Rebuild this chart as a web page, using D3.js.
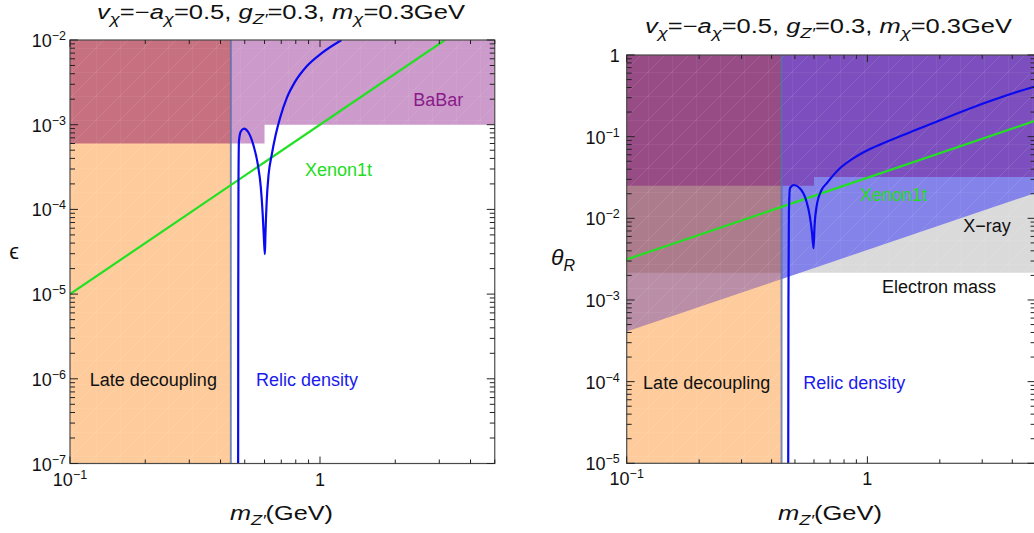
<!DOCTYPE html>
<html>
<head>
<meta charset="utf-8">
<script src="https://cdn.jsdelivr.net/npm/d3@7"></script>
<style>
  body { margin: 0; background: #fff; }
  svg { display: block; font-family: "Liberation Sans", Arial, sans-serif; }
</style>
</head>
<body>
<svg id="chart"></svg>
<script>
const WIDTH = 1034;
const HEIGHT = 533;

// axis domains
const MASS_DOMAIN = [0.1, 5];
const EPS_DOMAIN = [1e-7, 1e-2];
const THETA_DOMAIN = [1e-5, 1];

// left panel (epsilon)
const LATE_DECOUPLING = [0.1, 0.44];
const BABAR = [[0.1, 6e-4], [0.6, 6e-4], [0.6, 1e-3], [5, 1e-3], [5, 1e-2], [0.1, 1e-2]];
const XENON_EPS = [[0.1, 1e-5], [3.16, 1e-2]];
const RELIC_EPS = [
  [0.4705, 1e-7], [0.471, 1e-5], [0.472, 2e-4], [0.474, 6.4e-4], [0.482, 8.3e-4],
  [0.497, 9.0e-4], [0.516, 8.2e-4], [0.541, 5.8e-4], [0.564, 3.4e-4], [0.58, 1.8e-4],
  [0.59, 8.7e-5], [0.597, 4.3e-5], [0.602, 2.96e-5], [0.605, 5.1e-5], [0.612, 1.25e-4],
  [0.623, 2.6e-4], [0.641, 4.4e-4], [0.665, 7.6e-4], [0.692, 1.2e-3], [0.736, 2.06e-3],
  [0.794, 3.2e-3], [0.885, 4.9e-3], [1.016, 7.0e-3], [1.22, 1e-2]
];

// right panel (theta_R)
const ELECTRON_MASS = 2.15e-3;
const XRAY = [[0.1, 4.1e-4], [5, 0.0205]];
const UPPER = [[0.1, 0.025], [0.6, 0.025], [0.6, 0.032], [5, 0.032], [5, 1], [0.1, 1]];
const XENON_THETA = [[0.1, 3.14e-3], [5, 0.157]];
const RELIC_THETA = [
  [0.469, 1e-5], [0.470, 1e-3], [0.472, 0.012], [0.477, 0.0234], [0.495, 0.0256],
  [0.524, 0.0234], [0.556, 0.0168], [0.577, 0.0105], [0.589, 6.6e-3], [0.5975, 4.3e-3],
  [0.603, 7.9e-3], [0.615, 0.0139], [0.645, 0.0222], [0.678, 0.0269], [0.769, 0.041],
  [0.874, 0.0543], [1.025, 0.0706], [1.203, 0.0868], [1.654, 0.1266], [2.275, 0.1842],
  [3.131, 0.2635], [4.305, 0.3624], [4.95, 0.409]
];

const ORANGE = "#fecc9c";

const svg = d3.select("#chart").attr("width", WIDTH).attr("height", HEIGHT);

// faint white mesh that the shaded regions carry
const mesh = svg.append("defs").append("pattern").attr("id", "mesh")
  .attr("patternUnits", "userSpaceOnUse").attr("width", 24).attr("height", 24);
mesh.append("path").attr("d", "M0,0V24M0,0H24M0,24L24,0")
  .attr("stroke", "#fff").attr("stroke-opacity", 0.1).attr("stroke-width", 1).attr("fill", "none");

function logLine(pts, m) {
  // value of a straight log-log segment at mass m
  const [a, b] = pts;
  const t = (Math.log(m) - Math.log(a[0])) / (Math.log(b[0]) - Math.log(a[0]));
  return Math.exp(Math.log(a[1]) + t * (Math.log(b[1]) - Math.log(a[1])));
}

function makePanel(id, xRange, yRange, yDomain) {
  const x = d3.scaleLog().domain(MASS_DOMAIN).range(xRange);
  const y = d3.scaleLog().domain(yDomain).range(yRange);
  const g = svg.append("g");
  const defs = svg.append("defs");
  defs.append("clipPath").attr("id", id + "-plot")
    .append("rect").attr("x", xRange[0]).attr("y", yRange[1])
    .attr("width", xRange[1] - xRange[0]).attr("height", yRange[0] - yRange[1]);
  defs.append("clipPath").attr("id", id + "-late")
    .append("rect").attr("x", x(LATE_DECOUPLING[0])).attr("y", yRange[1])
    .attr("width", x(LATE_DECOUPLING[1]) - x(LATE_DECOUPLING[0])).attr("height", yRange[0] - yRange[1]);
  const plot = g.append("g").attr("clip-path", `url(#${id}-plot)`);
  return { x, y, g, plot, id, xRange, yRange, yDomain };
}

function area(p, layer, pts, color) {
  const path = d3.line().x(d => p.x(d[0])).y(d => p.y(d[1]));
  layer.append("path").attr("d", path(pts) + "Z").attr("fill", color);
  layer.append("path").attr("d", path(pts) + "Z").attr("fill", "url(#mesh)");
}

function rectPts(m0, m1, v0, v1) {
  return [[m0, v0], [m1, v0], [m1, v1], [m0, v1]];
}

function drawCurve(p, pts, color) {
  const line = d3.line().x(d => p.x(d[0])).y(d => p.y(d[1])).curve(d3.curveMonotoneX);
  p.plot.append("path").attr("d", line(pts))
    .attr("fill", "none").attr("stroke", color).attr("stroke-width", 2.2);
}

function drawLateEdge(p) {
  const [lo, hi] = p.yDomain;
  p.plot.append("line")
    .attr("x1", p.x(LATE_DECOUPLING[1])).attr("x2", p.x(LATE_DECOUPLING[1]))
    .attr("y1", p.y(lo)).attr("y2", p.y(hi))
    .attr("stroke", "#4f6fb0").attr("stroke-opacity", 0.75).attr("stroke-width", 2);
}

function powerLabel(text, v, supSize) {
  const e = Math.round(Math.log10(v));
  if (e === 0) { text.text("1"); return; }
  text.append("tspan").text("10");
  text.append("tspan").attr("dy", -7).attr("font-size", supSize).text("\u2212" + Math.abs(e));
}

function drawFrame(p, labelGap) {
  const [x0, x1] = p.xRange;
  const [y1, y0] = p.yRange;
  const isMajor = d => Math.abs(Math.log10(d) - Math.round(Math.log10(d))) < 1e-9;
  const frame = p.g.append("g");
  frame.append("rect").attr("x", x0).attr("y", y0).attr("width", x1 - x0).attr("height", y1 - y0)
    .attr("fill", "none").attr("stroke", "#4a4a4a").attr("stroke-width", 1.2);

  const ticks = frame.append("g").attr("stroke", "#222").attr("stroke-width", 1);
  p.x.ticks().forEach(d => {
    const len = isMajor(d) ? 7 : 4;
    const xx = p.x(d);
    ticks.append("line").attr("x1", xx).attr("x2", xx).attr("y1", y1).attr("y2", y1 - len);
    ticks.append("line").attr("x1", xx).attr("x2", xx).attr("y1", y0).attr("y2", y0 + len);
  });
  p.y.ticks().forEach(d => {
    const len = isMajor(d) ? 8 : 5;
    const yy = p.y(d);
    ticks.append("line").attr("x1", x0).attr("x2", x0 + len).attr("y1", yy).attr("y2", yy);
    ticks.append("line").attr("x1", x1).attr("x2", x1 - len).attr("y1", yy).attr("y2", yy);
  });

  const labels = p.g.append("g").attr("font-size", 18).attr("fill", "#111");
  p.x.ticks().filter(isMajor).forEach(d => {
    const t = labels.append("text").attr("x", p.x(d)).attr("y", y1 + 22).attr("text-anchor", "middle");
    powerLabel(t, d, 12.5);
  });
  p.y.ticks().filter(isMajor).forEach(d => {
    const t = labels.append("text").attr("x", x0 - labelGap).attr("y", p.y(d) + 7).attr("text-anchor", "end");
    powerLabel(t, d, 12.5);
  });
}

function richText(parent, x, y, size, parts, length) {
  const t = parent.append("text").attr("x", x).attr("y", y).attr("font-size", size)
    .attr("text-anchor", "middle").attr("fill", "#111");
  if (length) t.attr("textLength", length).attr("lengthAdjust", "spacingAndGlyphs");
  let shift = 0;
  parts.forEach(([s, italic, sub]) => {
    const target = sub ? 5 : 0;
    const ts = t.append("tspan").text(s).attr("dy", target - shift);
    if (italic) ts.attr("font-style", "italic");
    if (sub) ts.attr("font-size", size * 0.72);
    shift = target;
  });
  return t;
}

const TITLE = [
  ["v", true], ["\u03c7", true, true], ["=\u2212"], ["a", true], ["\u03c7", true, true],
  ["=0.5, "], ["g", true], ["Z\u2032", true, true], ["=0.3, "], ["m", true],
  ["\u03c7", true, true], ["=0.3GeV"]
];
const X_LABEL = [["m", true], ["Z\u2032", true, true], ["(GeV)"]];

function label(p, m, v, text, color, size) {
  p.g.append("text").attr("x", p.x(m)).attr("y", p.y(v))
    .attr("font-size", size || 18).attr("fill", color).text(text);
}

// ---------------- left panel ----------------
const left = makePanel("eps", [70, 494.75], [463.5, 40], EPS_DOMAIN);
{
  const [m0, m1] = LATE_DECOUPLING;
  area(left, left.plot, BABAR, "#cc9acb");
  area(left, left.plot, rectPts(m0, m1, EPS_DOMAIN[0], EPS_DOMAIN[1]), ORANGE);
  const inside = left.plot.append("g").attr("clip-path", "url(#eps-late)");
  area(left, inside, BABAR, "#c7707f");
  drawLateEdge(left);
  drawCurve(left, XENON_EPS, "#22e022");
  drawCurve(left, RELIC_EPS, "#0a0af0");
  drawFrame(left, 4);
  label(left, 2.36, 1.66e-3, "BaBar", "#8b1a89");
  label(left, 0.871, 2.48e-4, "Xenon1t", "#22dd22");
  label(left, 0.12, 8.3e-7, "Late decoupling", "#111");
  label(left, 0.555, 8.3e-7, "Relic density", "#1a1aee");
  richText(svg, 281, 18.5, 20, TITLE, 368);
  richText(svg, 281.5, 520, 21, X_LABEL, 103);
  svg.append("text").attr("x", 14).attr("y", 259).attr("font-size", 22)
    .attr("text-anchor", "middle").attr("fill", "#111").text("\u03f5");
}

// ---------------- right panel ----------------
const right = makePanel("theta", [626.7, 1035.6], [463.3, 55], THETA_DOMAIN);
{
  const [m0, m1] = LATE_DECOUPLING;
  const greyPts = rectPts(MASS_DOMAIN[0], MASS_DOMAIN[1], ELECTRON_MASS, 1);
  const xrayPts = [XRAY[0], XRAY[1], [MASS_DOMAIN[1], 1], [MASS_DOMAIN[0], 1]];
  area(right, right.plot, greyPts, "#dadada");
  area(right, right.plot, xrayPts, "#8383ea");
  area(right, right.plot, UPPER, "#7d4fbe");
  area(right, right.plot, rectPts(m0, m1, THETA_DOMAIN[0], THETA_DOMAIN[1]), ORANGE);
  const inside = right.plot.append("g").attr("clip-path", "url(#theta-late)");
  area(right, inside, [XRAY[0], [m1, logLine(XRAY, m1)], [m1, 1], [m0, 1]], "#b98ea6");
  area(right, inside, greyPts, "#ad7c8c");
  area(right, inside, UPPER, "#984c85");
  drawLateEdge(right);
  drawCurve(right, XENON_THETA, "#22e022");
  drawCurve(right, RELIC_THETA, "#0a0af0");
  drawFrame(right, 7);
  label(right, 0.931, 0.0164, "Xenon1t", "#22dd22");
  label(right, 2.5, 6.8e-3, "X\u2212ray", "#111");
  label(right, 1.15, 1.23e-3, "Electron mass", "#111");
  label(right, 0.117, 8.07e-5, "Late decoupling", "#111");
  label(right, 0.541, 8.07e-5, "Relic density", "#1a1aee");
  richText(svg, 828.5, 33.3, 20, TITLE, 367);
  richText(svg, 830, 520, 21, X_LABEL, 104);
  const th = svg.append("text").attr("x", 563).attr("y", 265).attr("font-size", 23)
    .attr("text-anchor", "middle").attr("fill", "#111").attr("font-style", "italic");
  th.append("tspan").text("\u03b8");
  th.append("tspan").attr("dy", 6).attr("font-size", 16).text("R");
}
</script>
</body>
</html>
